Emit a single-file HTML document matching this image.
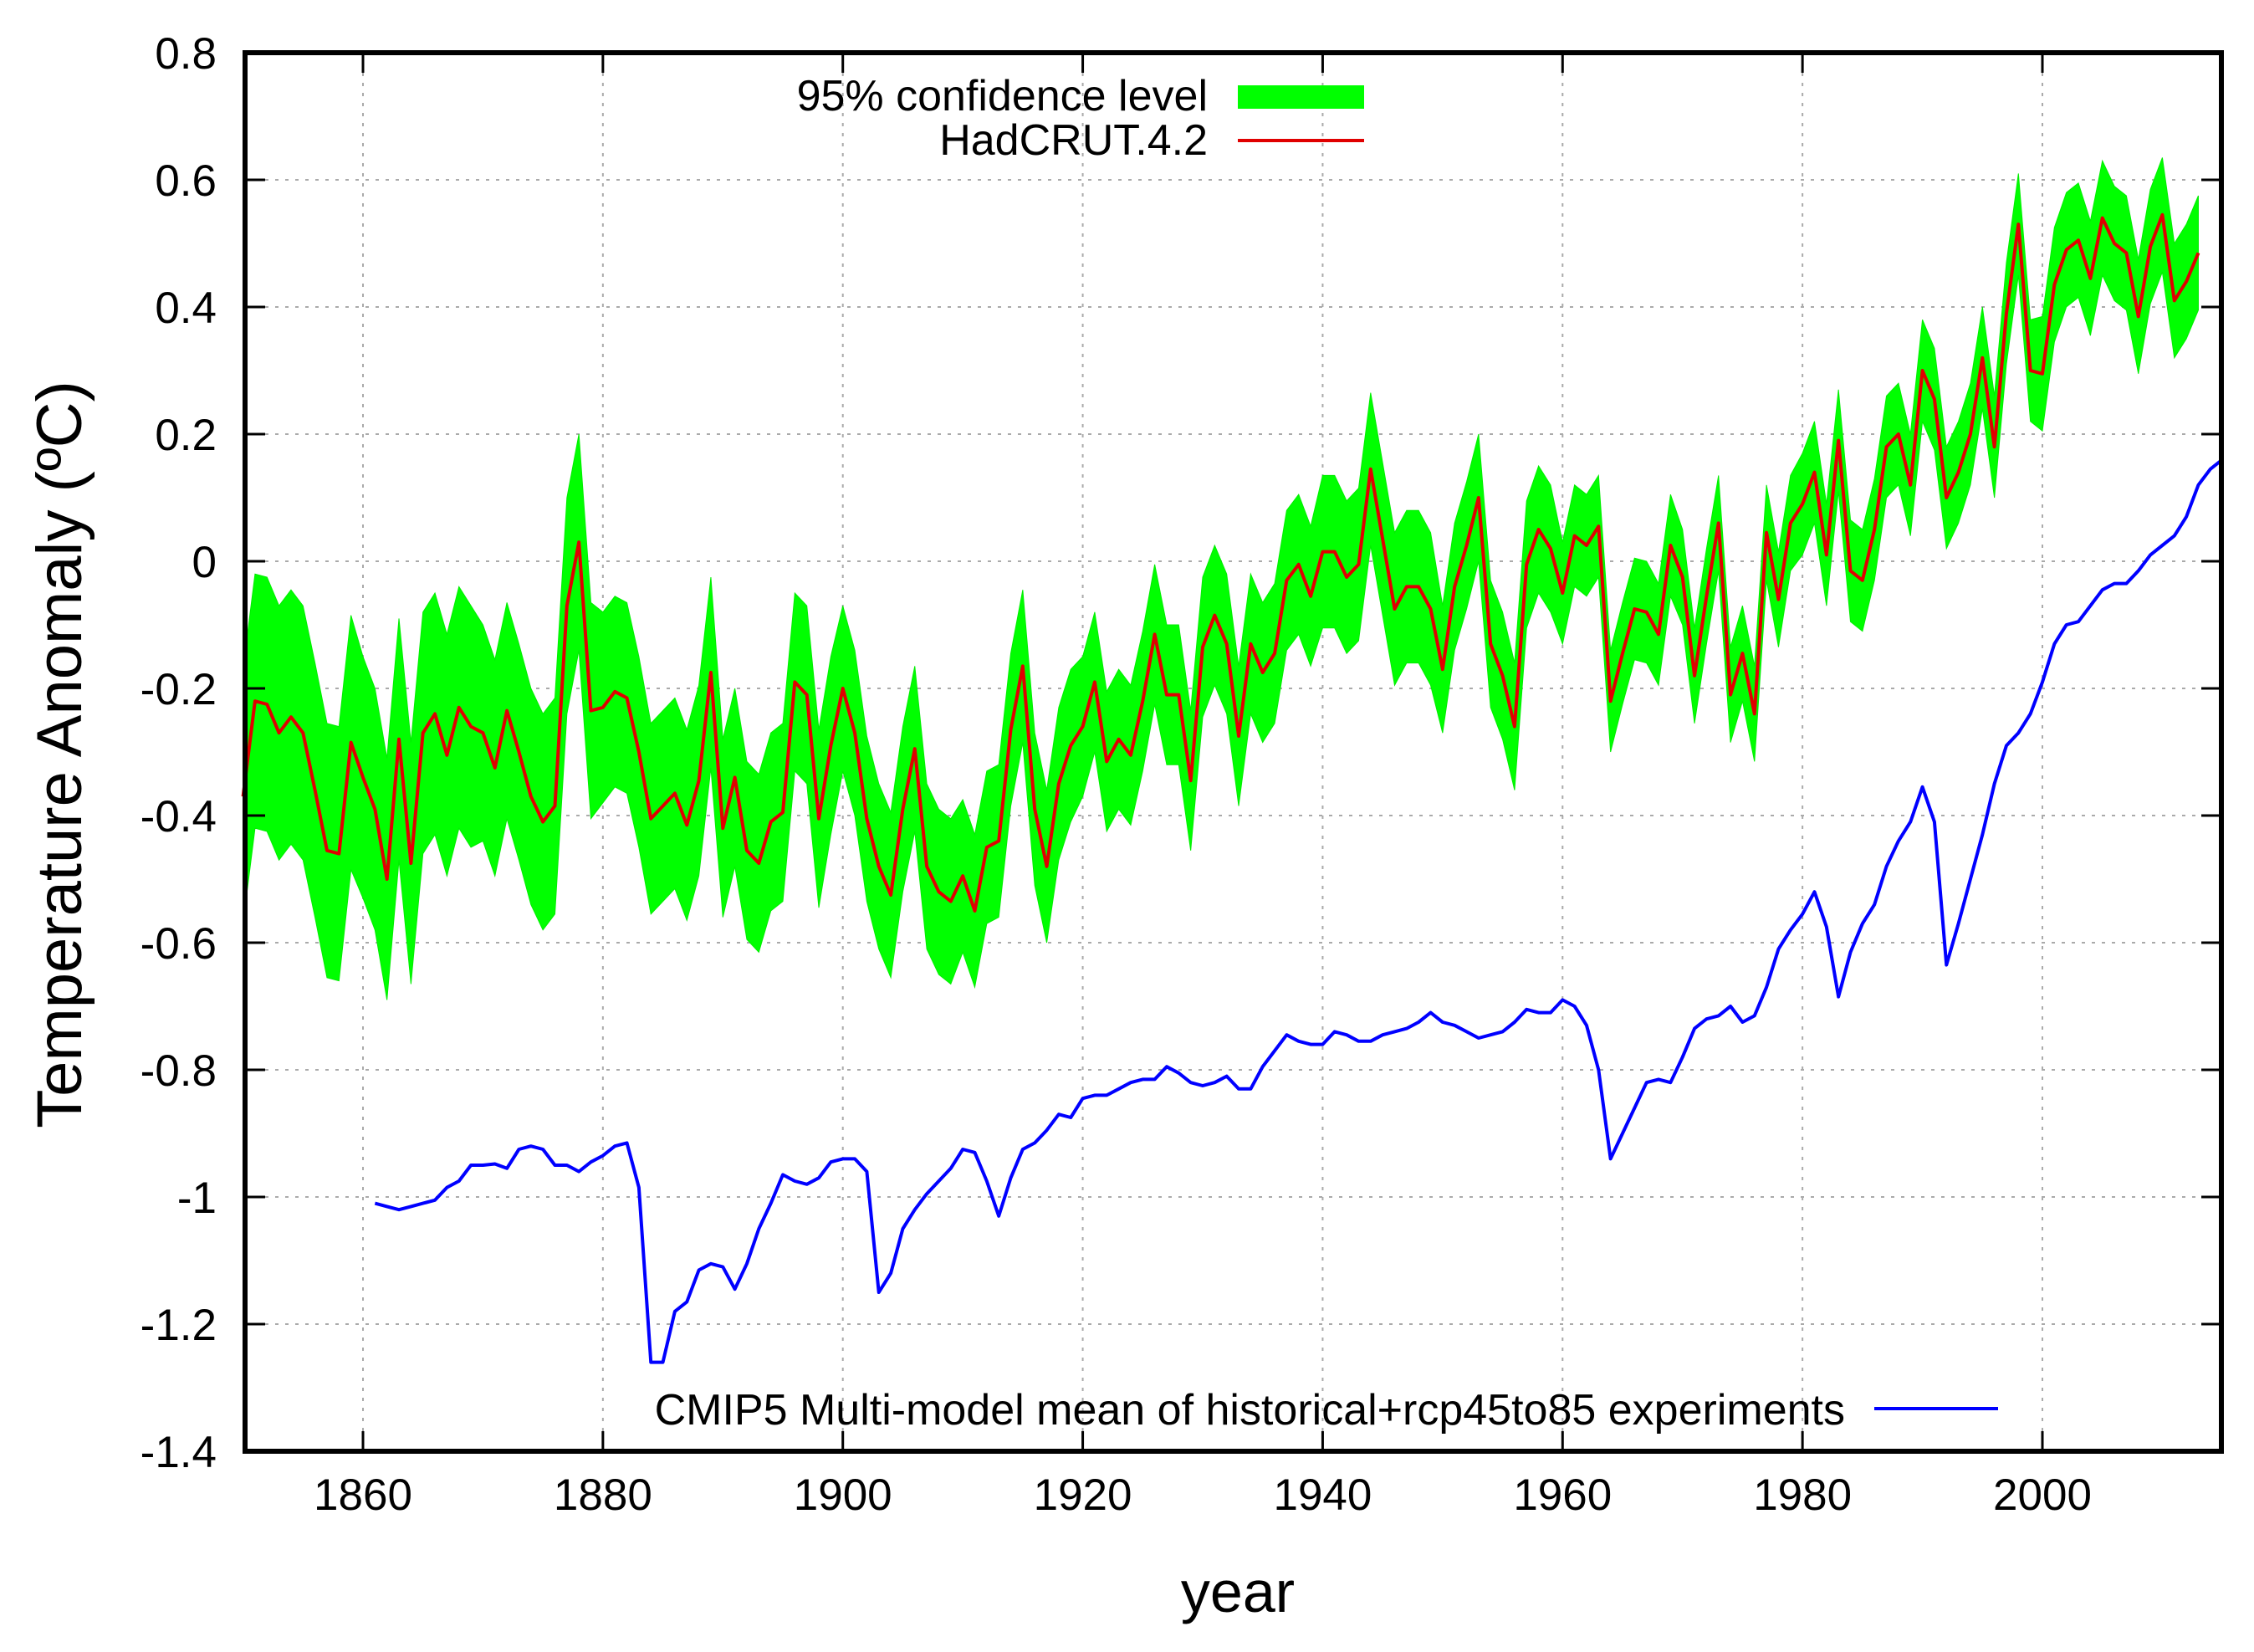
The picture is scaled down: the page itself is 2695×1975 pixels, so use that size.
<!DOCTYPE html>
<html><head><meta charset="utf-8"><style>
html,body{margin:0;padding:0;background:#fff;}
svg{display:block;font-family:"Liberation Sans",sans-serif;}
</style></head><body>
<svg id="chart" width="2695" height="1975" viewBox="0 0 2695 1975" xmlns="http://www.w3.org/2000/svg">
<g id="grid"></g>
<g id="band"></g>
<g id="lines"></g>
<g id="axes"></g>
<g id="legend">
  <text x="1444" y="132" font-size="52" text-anchor="end">95% confidence level</text>
  <rect x="1480" y="102" width="151" height="28" fill="#00ff00"/>
  <text x="1444" y="185" font-size="52" text-anchor="end">HadCRUT.4.2</text>
  <line x1="1480" y1="168" x2="1631" y2="168" stroke="#e00000" stroke-width="4"/>
  <text x="2206" y="1703" font-size="52" text-anchor="end">CMIP5 Multi-model mean of historical+rcp45to85 experiments</text>
  <line x1="2241" y1="1684" x2="2389" y2="1684" stroke="#0000ff" stroke-width="4"/>
</g>
<text x="1480" y="1927" font-size="70" text-anchor="middle">year</text>
<text transform="translate(97,902) rotate(-90)" font-size="76" text-anchor="middle">Temperature Anomaly (ºC)</text>
</svg>
<script>
const xTicks=[1860,1880,1900,1920,1940,1960,1980,2000];
const yTicks=[0.8,0.6,0.4,0.2,0,-0.2,-0.4,-0.6,-0.8,-1,-1.2,-1.4];
const hadStartYear=1850;
const hadcrut=[-0.37,-0.22,-0.225,-0.27,-0.245,-0.27,-0.36,-0.455,-0.46,-0.285,
-0.34,-0.39,-0.5,-0.28,-0.475,-0.27,-0.24,-0.305,-0.23,-0.26,
-0.27,-0.325,-0.235,-0.3,-0.37,-0.41,-0.385,-0.07,0.03,-0.235,
-0.23,-0.205,-0.215,-0.3,-0.405,-0.385,-0.365,-0.415,-0.345,-0.175,
-0.42,-0.34,-0.455,-0.475,-0.41,-0.395,-0.19,-0.21,-0.405,-0.29,
-0.2,-0.27,-0.405,-0.48,-0.525,-0.39,-0.295,-0.48,-0.52,-0.535,
-0.495,-0.55,-0.45,-0.44,-0.265,-0.165,-0.39,-0.48,-0.35,-0.29,
-0.26,-0.19,-0.315,-0.28,-0.305,-0.22,-0.115,-0.21,-0.21,-0.345,
-0.135,-0.085,-0.13,-0.275,-0.13,-0.175,-0.145,-0.03,-0.005,-0.055,
0.015,0.015,-0.025,-0.005,0.145,0.035,-0.075,-0.04,-0.04,-0.075,
-0.17,-0.04,0.025,0.1,-0.13,-0.18,-0.26,-0.005,0.05,0.02,
-0.05,0.04,0.025,0.055,-0.22,-0.145,-0.075,-0.08,-0.115,0.025,
-0.025,-0.18,-0.055,0.06,-0.21,-0.145,-0.24,0.045,-0.06,0.06,
0.09,0.14,0.01,0.19,-0.015,-0.03,0.05,0.18,0.2,0.12,
0.3,0.255,0.1,0.14,0.2,0.32,0.18,0.39,0.53,0.3,
0.295,0.435,0.49,0.505,0.445,0.54,0.5,0.485,0.385,0.495,
0.545,0.41,0.44,0.485];
const ciDecades=[1850,1860,1870,1880,1890,1900,1910,1920,1930,1940,1950,1960,1970,1980,1990,2000,2010];
const ciHalfWidth=[0.2,0.19,0.17,0.15,0.14,0.13,0.12,0.11,0.11,0.12,0.1,0.08,0.075,0.08,0.08,0.09,0.09];
const cmipStartYear=1861;
const cmip5=[-1.01,-1.015,-1.02,-1.015,-1.01,-1.005,-0.985,-0.975,-0.95,
-0.95,-0.948,-0.955,-0.925,-0.92,-0.925,-0.95,-0.95,-0.96,-0.945,
-0.935,-0.92,-0.915,-0.985,-1.26,-1.26,-1.18,-1.165,-1.115,-1.105,
-1.11,-1.145,-1.105,-1.05,-1.01,-0.965,-0.975,-0.98,-0.97,-0.945,
-0.94,-0.94,-0.96,-1.15,-1.12,-1.05,-1.02,-0.995,-0.975,-0.955,
-0.925,-0.93,-0.975,-1.03,-0.97,-0.925,-0.915,-0.895,-0.87,-0.875,
-0.845,-0.84,-0.84,-0.83,-0.82,-0.815,-0.815,-0.795,-0.805,-0.82,
-0.825,-0.82,-0.81,-0.83,-0.83,-0.795,-0.77,-0.745,-0.755,-0.76,
-0.76,-0.74,-0.745,-0.755,-0.755,-0.745,-0.74,-0.735,-0.725,-0.71,
-0.725,-0.73,-0.74,-0.75,-0.745,-0.74,-0.725,-0.705,-0.71,-0.71,
-0.69,-0.7,-0.73,-0.8,-0.94,-0.9,-0.86,-0.82,-0.815,-0.82,
-0.78,-0.735,-0.72,-0.715,-0.7,-0.725,-0.715,-0.67,-0.61,-0.58,
-0.555,-0.52,-0.575,-0.685,-0.615,-0.57,-0.54,-0.48,-0.44,-0.41,
-0.355,-0.41,-0.635,-0.57,-0.5,-0.43,-0.35,-0.29,-0.27,-0.24,
-0.19,-0.13,-0.1,-0.095,-0.07,-0.045,-0.035,-0.035,-0.015,0.01,
0.025,0.04,0.07,0.12,0.145,0.16];

const L=293,R=2656,T=63,B=1735;
const X=y=>434+(y-1860)*(2442-434)/140;
const Y=v=>T+(0.8-v)*(B-T)/2.2;
const NS="http://www.w3.org/2000/svg";
function mk(tag,attrs,parent){const e=document.createElementNS(NS,tag);for(const k in attrs)e.setAttribute(k,attrs[k]);parent.appendChild(e);return e;}
const grid=document.getElementById('grid'),axes=document.getElementById('axes'),band=document.getElementById('band'),lines=document.getElementById('lines');

xTicks.forEach(t=>{
  const g=mk('line',{x1:X(t),x2:X(t),y1:T,y2:B,stroke:'#aaa','stroke-width':2,'stroke-dasharray':'4,8'},grid);
  
  
  const tk=mk('line',{x1:X(t),x2:X(t),y1:B,y2:B-24,stroke:'#000','stroke-width':3},axes);
  
  
  const tk2=mk('line',{x1:X(t),x2:X(t),y1:T,y2:T+24,stroke:'#000','stroke-width':3},axes);
  
  
  const lb=mk('text',{x:X(t),y:B+70,'font-size':53,'text-anchor':'middle'},axes);
  lb.textContent=t;
  
  
});
yTicks.forEach(t=>{
  if(t<0.79&&t>-1.39){
    const g=mk('line',{x1:L,x2:R,y1:Y(t),y2:Y(t),stroke:'#aaa','stroke-width':2,'stroke-dasharray':'4,8'},grid);
    
    
  }
  const tk=mk('line',{x1:L,x2:L+24,y1:Y(t),y2:Y(t),stroke:'#000','stroke-width':3},axes);
  
  
  const tk2=mk('line',{x1:R,x2:R-24,y1:Y(t),y2:Y(t),stroke:'#000','stroke-width':3},axes);
  
  
  const lb=mk('text',{x:259,y:Y(t)+19,'font-size':53,'text-anchor':'end'},axes);
  lb.textContent=(Math.round(t*10)/10).toString();
  
  
});
const frame=mk('rect',{x:L,y:T,width:R-L,height:B-T,fill:'none',stroke:'#000','stroke-width':6},axes);



function hw(year){const i=Math.min(ciDecades.length-1,Math.floor((year-1850)/10));return ciHalfWidth[i];}
let up=[],lo=[];
hadcrut.forEach((v,i)=>{const yr=hadStartYear+i;up.push(X(yr)+','+Y(v+hw(yr)));lo.push(X(yr)+','+Y(v-hw(yr)));});
const poly=mk('polygon',{points:up.concat(lo.reverse()).join(' '),fill:'#00ff00',stroke:'#00ee00','stroke-width':1},band);



const hp=mk('polyline',{points:hadcrut.map((v,i)=>X(hadStartYear+i)+','+Y(v)).join(' '),fill:'none',stroke:'#e00000','stroke-width':4,'stroke-linejoin':'round'},lines);


const cp=mk('polyline',{points:cmip5.map((v,i)=>X(cmipStartYear+i)+','+Y(v)).join(' '),fill:'none',stroke:'#0000ff','stroke-width':4,'stroke-linejoin':'round'},lines);


</script>
</body></html>
